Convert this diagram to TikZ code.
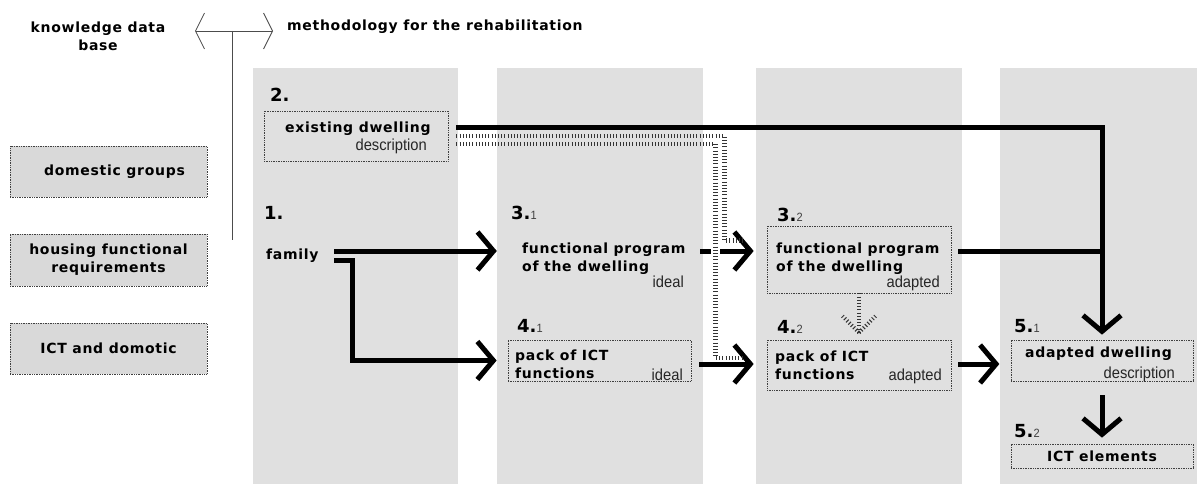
\documentclass[tikz,border=0pt]{standalone}
\usepackage{fontspec}
\usepackage{tikz}
\usetikzlibrary{arrows.meta,calc,positioning}
\newfontfamily\labelfam{DejaVu Sans}[LetterSpace=5]
\newfontfamily\numfam{DejaVu Sans}
\newfontfamily\notefam{Liberation Sans}[FakeStretch=0.92]
\newcommand{\lblfont}{\labelfam\bfseries\fontsize{14}{18}\selectfont}
\newcommand{\notefont}{\notefam\fontsize{16}{18}\selectfont}
\newcommand{\numfont}{\numfam\bfseries\fontsize{18}{20}\selectfont}
\newcommand{\stage}[2]{#1.{\notefam\mdseries\fontsize{12}{12}\selectfont\color{black!75}#2}}
\definecolor{colgray}{gray}{0.88}
\definecolor{boxgray}{gray}{0.85}
\tikzset{
  box/.style={draw=black!75,densely dotted,line width=0.7pt,inner sep=0,font=\lblfont},
  kbox/.style={box,fill=boxgray,minimum width=197pt},
  lbl/.style={font=\lblfont,inner sep=0},
  note/.style={font=\notefont,text=black!85,inner sep=0},
  num/.style={font=\numfont,inner sep=0},
  guide/.style={line width=0.8pt,black!70},
  solidline/.style={line width=5pt},
  flow/.style={solidline,-{Straight Barb[length=16pt,width=38pt]}},
  rail/.style={line width=4.5pt,black!80,dash pattern=on 1pt off 2.2pt}
}
\begin{document}
\begin{tikzpicture}[x=1pt,y=-1pt]
    \useasboundingbox (0,0) rectangle (1198,484);
    \foreach \a/\b in {253/458,497/703,756/962,1000/1197}
      \fill[colgray] (\a,68) rectangle (\b,484);

    \node[lbl,align=center] (kdb) at (98,36) {knowledge data\\base};
    \node[lbl,anchor=base west] (meth) at (287,31) {methodology for the rehabilitation};
    \coordinate (hub) at (232,31);
    \draw[guide,{Straight Barb[length=9pt,width=36pt]}-{Straight Barb[length=9pt,width=36pt]}] ([xshift=-37pt]hub) -- ([xshift=41pt]hub);
    \draw[guide] (hub) -- ++(0,209);

    \node[kbox,minimum height=51pt] (groups) at (108.5,171.5) {\hspace{12pt}domestic groups};
    \node[kbox,minimum height=52pt,align=center] (housing) at (108.5,260) {housing functional\\requirements};
    \node[kbox,minimum height=51pt] (ict) at (108.5,348.5) {ICT and domotic\hspace{14pt}};

    \node[num,anchor=base west] (n2) at (270,102) {2.};
    \node[box,minimum width=184pt,minimum height=50pt] (exist) at (356,136) {};
    \node[lbl,anchor=base west] (exist-t) at (285,132) {existing dwelling};
    \node[note,anchor=base east] (exist-d) at (427,150) {description};

    \node[num,anchor=base west] (n1) at (264,219) {1.};
    \node[lbl,anchor=west,text width=62pt] (family) at (266,256) {family};

    \node[num,anchor=base west] (n31) at (511,219) {\stage{3}{1}};
    \node[minimum width=183pt,minimum height=67pt,inner sep=0] (prog1) at (599.5,259.5) {};
    \node[lbl,anchor=north west,align=left] (prog1-t) at (522,243) {functional program\\of the dwelling};
    \node[note,anchor=base east] (prog1-d) at (684,287) {ideal};

    \node[num,anchor=base west] (n41) at (517,332) {\stage{4}{1}};
    \node[box,minimum width=183pt,minimum height=41pt] (pack1) at (599.5,360.5) {};
    \node[lbl,anchor=north west,align=left] (pack1-t) at (515,350) {pack of ICT\\functions};
    \node[note,anchor=base east] (pack1-d) at (683,380) {ideal};

    \node[num,anchor=base west] (n32) at (777,221) {\stage{3}{2}};
    \node[box,minimum width=184pt,minimum height=67pt] (prog2) at (859,259.5) {};
    \node[lbl,anchor=north west,align=left] (prog2-t) at (776,243) {functional program\\of the dwelling};
    \node[note,anchor=base east] (prog2-d) at (940,287) {adapted};

    \node[num,anchor=base west] (n42) at (777,333) {\stage{4}{2}};
    \node[box,minimum width=184pt,minimum height=50pt] (pack2) at (859,365) {};
    \node[lbl,anchor=north west,align=left] (pack2-t) at (775,351) {pack of ICT\\functions};
    \node[note,anchor=base east] (pack2-d) at (942,380) {adapted};

    \node[num,anchor=base west] (n51) at (1014,332) {\stage{5}{1}};
    \node[box,minimum width=182pt,minimum height=41pt] (adapt) at (1102,360.5) {};
    \node[lbl,anchor=base west] (adapt-t) at (1025,357) {adapted dwelling};
    \node[note,anchor=base east] (adapt-d) at (1175,378) {description};

    \node[num,anchor=base west] (n52) at (1014,437) {\stage{5}{2}};
    \node[box,minimum width=182pt,minimum height=24pt] (elem) at (1102,456) {ICT elements};

    \draw[flow] ([xshift=8pt,yshift=9pt]exist.east) -| ([yshift=5pt]adapt.north);
    \coordinate (p2out) at ([xshift=7pt,yshift=8.5pt]prog2.east);
    \draw[solidline] (p2out) -- (p2out -| adapt.north);
    \draw[flow] ([xshift=7pt,yshift=1pt]pack2.east) -- ++(41,0);
    \draw[flow] ([yshift=-14pt]adapt.south) -- ([yshift=6pt]elem.north);

    \draw[flow] ([xshift=6pt,yshift=5pt]family.east) -- ([xshift=-11pt,yshift=8.5pt]prog1.west);
    \draw[flow] ([xshift=6pt,yshift=-4pt]family.east) -- ++(18,0) |- ([xshift=-11pt]pack1.west);
    \draw[flow,dash pattern=on 11pt off 9pt on 200pt] ([xshift=9pt,yshift=8.5pt]prog1.east) -- ([xshift=-13pt,yshift=8.5pt]prog2.west);
    \draw[flow] ([xshift=8pt,yshift=-3.5pt]pack1.east) -- ([xshift=-13pt,yshift=1pt]pack2.west);

    \draw[rail] ([xshift=8pt]exist.east) -- ++(268,0) |- ([xshift=-24pt,yshift=19pt]prog2.west);
    \draw[rail] ([xshift=8pt,yshift=-8pt]exist.east) -- ++(259,0) |- ([xshift=-24pt,yshift=7pt]pack2.west);
    \draw[rail] (prog2.south) -- ([yshift=7pt]pack2.north) coordinate (fan);
    \draw[rail,line width=4pt] (fan) -- ++(-18,-18) (fan) -- ++(18,-18);
  \end{tikzpicture}
\end{document}
